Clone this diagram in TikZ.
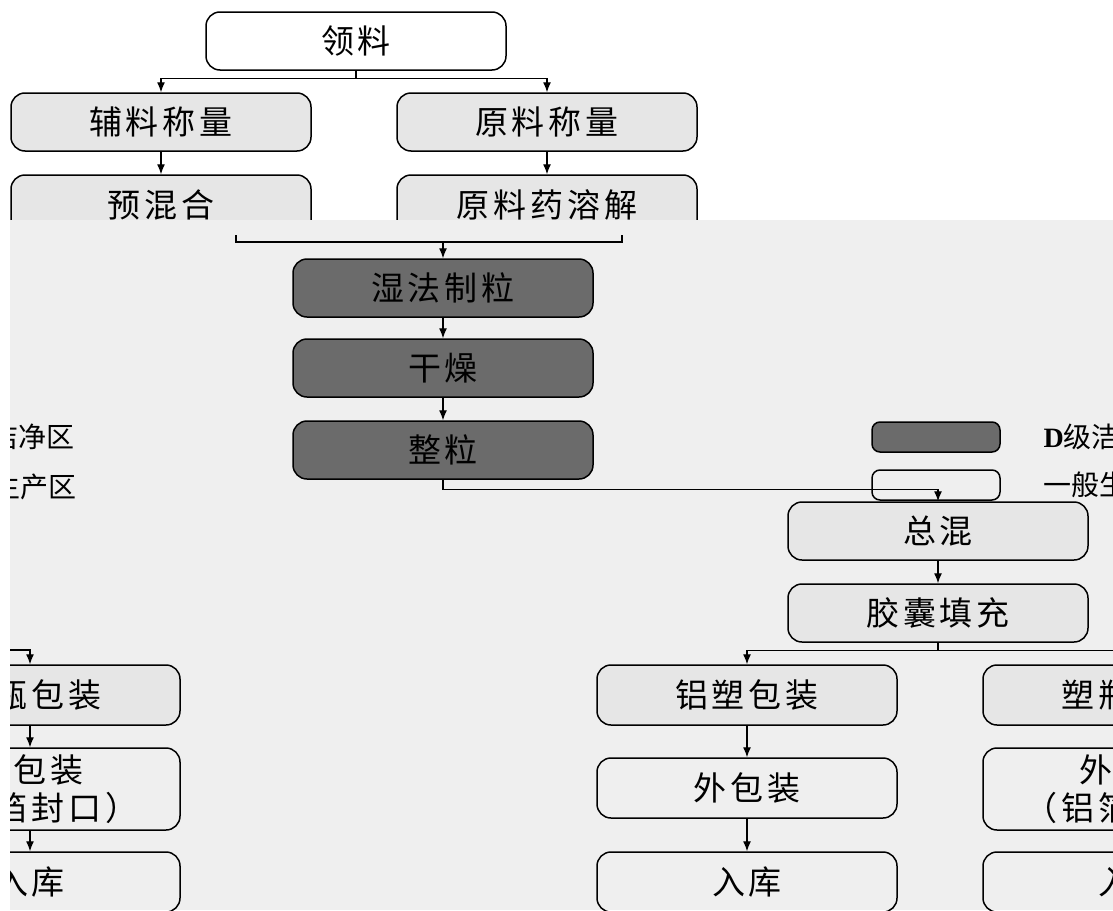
\documentclass[tikz,border=0pt]{standalone}
\usepackage{fontspec}
\setmainfont{Liberation Serif}
\newfontfamily\cjk[LetterSpace=12]{Noto Sans CJK SC}
\newfontfamily\cjkkey{Noto Sans CJK SC}
\usetikzlibrary{arrows.meta}
\definecolor{bggray}{HTML}{EFEFEF}
\definecolor{lightbox}{HTML}{E6E6E6}
\definecolor{darkbox}{HTML}{6B6B6B}

\begin{document}
\begin{tikzpicture}[x=1pt,y=-1pt,
    openproc/.style={draw, line width=1.5pt, rounded corners=14pt, minimum width=300pt,
      minimum height=58pt, align=center, inner sep=2pt, font=\cjk\fontsize{33}{38}\selectfont},
    grayproc/.style={openproc, fill=lightbox},
    darkproc/.style={openproc, fill=darkbox},
    keybox/.style={minimum width=128pt, minimum height=30pt, rounded corners=8pt},
    lgdtext/.style={font=\cjkkey\fontsize{28}{32}\selectfont},
    flow/.style={line width=1.2pt, -{Latex[length=10pt,width=8pt]}},
    link/.style={line width=1.2pt}]
    \useasboundingbox (0,0) rectangle (1113,910);
    \clip (0,0) rectangle (1113,910);
    \fill[white] (0,0) rectangle (1113,910);

    % Weighing
    \node[openproc, fill=white] (lingliao) at (356,41) {领料};
    \node[grayproc] (fuliao) at (161,122) {辅料称量};
    \node[grayproc] (yuanliao) at (547,122) {原料称量};
    \node[grayproc, minimum height=60pt] (yuhun) at (161,205) {预混合};
    \node[grayproc, minimum height=60pt] (rongjie) at (547,205) {原料药溶解};
    \draw[link] (lingliao.south) -- ++(0,8) coordinate (split);
    \draw[flow] (split) -| (fuliao);
    \draw[flow] (split) -| (yuanliao);
    \draw[flow] (fuliao) -- (yuhun);
    \draw[flow] (yuanliao) -- (rongjie);

    % Lower area
    \fill[bggray] (10,220) rectangle (1113,910);

    % Granulation
    \node[darkproc] (zhili) at (443,288) {湿法制粒};
    \node[darkproc] (ganzao) at (443,368) {干燥};
    \node[darkproc] (zhengli) at (443,450) {整粒};
    \coordinate (mixL) at (236,235);
    \coordinate (mixR) at (622,235);
    \coordinate (mixC) at (443,242);
    \draw[link] (mixL) |- (mixC) -| (mixR);
    \draw[flow] (mixC) -- (zhili);
    \draw[flow] (zhili) -- (ganzao);
    \draw[flow] (ganzao) -- (zhengli);

    % Legend
    \node[darkproc, keybox] (keyD) at (936,437) {};
    \node[openproc, keybox] (keyG) at (936,485) {};
    \node[lgdtext, anchor=west] (keyDtxt) at (1040,437) {{\rmfamily\bfseries D}级洁净区};
    \node[lgdtext, anchor=west] (keyGtxt) at (1040,485) {一般生产区};

    % Filling
    \node[grayproc] (zonghun) at (938,531) {总混};
    \node[grayproc] (tianchong) at (938,613) {胶囊填充};
    \draw[flow] (zhengli.south) -- ++(0,10) -| (zonghun.north);
    \draw[flow] (zonghun) -- (tianchong);
    \draw[link] (tianchong.south) -- ++(0,8) coordinate (fork);

    % Packing
    \node[grayproc, minimum height=60pt] (lvsu) at (747,695) {铝塑包装};
    \node[openproc, minimum height=60pt] (waibao) at (747,788) {外包装};
    \node[openproc, minimum height=60pt] (ruku) at (747,882) {入库};
    \node[grayproc, minimum height=60pt] (suping) at (1133,695) {塑瓶包装};
    \node[openproc, minimum height=82pt] (waibaoB) at (1133,789) {外包装\\（铝箔封口）};
    \node[openproc, minimum height=60pt] (rukuB) at (1133,882) {入库};
    \draw[flow] (fork) -| (lvsu);
    \draw[flow] (fork) -| (suping);
    \draw[flow] (lvsu) -- (waibao);
    \draw[flow] (waibao) -- (ruku);
    \draw[flow] (suping) -- (waibaoB);
    \draw[flow] (waibaoB) -- (rukuB);

    % Left edge
    \begin{scope}
      \clip (10,220) rectangle (1113,910);
      \node[lgdtext, anchor=east] (keyDcopy) at (78,437) {{\rmfamily\bfseries D}级洁净区};
      \node[lgdtext, anchor=east] (keyGcopy) at (80,487) {一般生产区};
      \node[grayproc, minimum height=60pt] (supingW) at (30,695) {塑瓶包装};
      \node[openproc, minimum height=82pt] (waibaoW) at (30,789) {外包装\\（铝箔封口）};
      \node[openproc, minimum height=60pt] (rukuW) at (30,882) {入库};
      \coordinate (forkW) at (10,650);
      \draw[flow] (forkW) -| (supingW);
      \draw[flow] (supingW) -- (waibaoW);
      \draw[flow] (waibaoW) -- (rukuW);
    \end{scope}
\end{tikzpicture}
\end{document}
